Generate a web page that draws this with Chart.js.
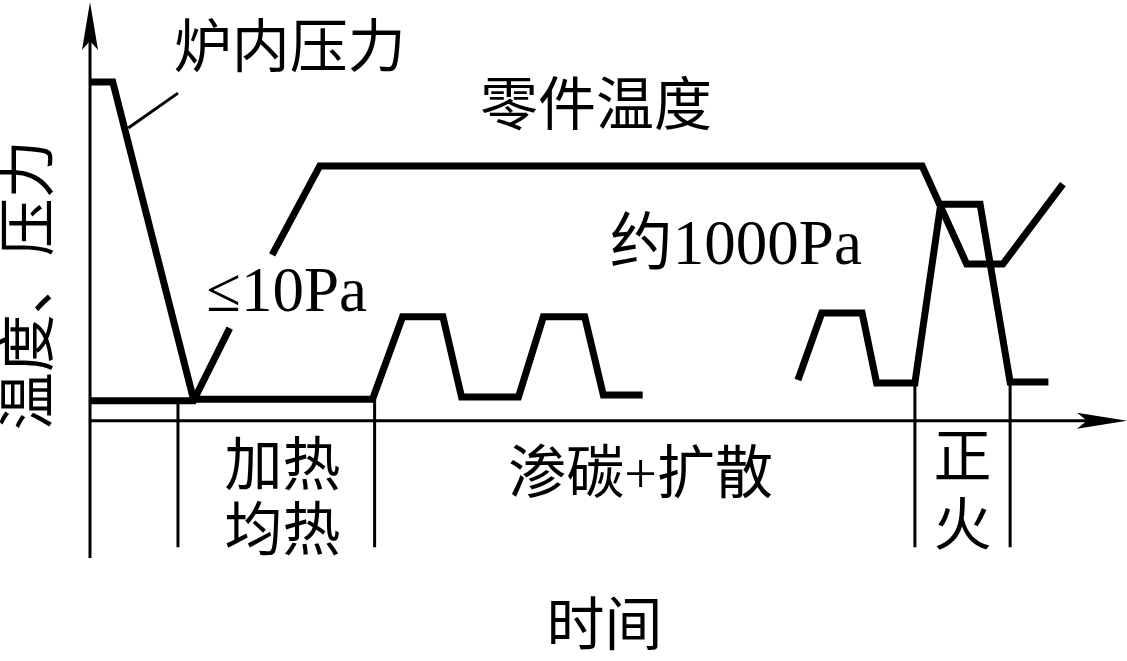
<!DOCTYPE html>
<html>
<head>
<meta charset="utf-8">
<script src="https://cdn.jsdelivr.net/npm/chart.js@4/dist/chart.umd.min.js"></script>
<style>
    html, body { margin: 0; padding: 0; background: #fff; }
    canvas { display: block; }
</style>
</head>
<body>
<canvas id="processChart" width="1127" height="661"></canvas>
<script>
// Схема процесса: давление в печи и температура детали во времени

// Давление в печи (ось времени условная, 0..100)
const pressureTime  = [0, 2.2, 10, 27.3, 30.2, 34.1, 35.9, 41.4, 43.8, 47.8, 49.6, 53.4, 60, 68.4, 70.7, 74.6, 76.0, 79.7, 82.2, 86.0, 88.9, 92.6];
const pressureValue = [81.5, 81.5, 5.2, 5.2, 25, 25, 5.7, 5.7, 25, 25, 6.2, 6.2, null, 9.8, 25.9, 25.9, 9.1, 9.1, 52.1, 52.1, 9.3, 9.3];

// Температура детали
const tempTime  = [0, 10, 13.5, 15.5, 17.6, 22.2, 80.4, 84.7, 88.2, 94.0];
const tempValue = [4.8, 4.8, 22.3, null, 39.9, 61.3, 61.3, 37.7, 37.7, 56.9];

// Границы этапов (время) и их верхние точки
const stageTime = [8.5, 27.5, 79.7, 88.9];
const stageTop  = [4.8, 5.2, 9.1, 9.3];
const stageBottom = -30.4;

// Выноска к подписи «炉内压力»
const leaderTime  = [3.7, 8.5];
const leaderValue = [70.4, 78.8];

// Подписи
const labels = [
    { text: '炉内压力', x: 19.3, y: 88.7 },
    { text: '零件温度', x: 48.9, y: 74.7 },
    { text: '约1000Pa', x: 62.4, y: 41.6, big: true },
    { text: '≤10Pa', x: 19.0, y: 30.3, big: true },
    { text: '加热', x: 18.6, y: -11.8 },
    { text: '均热', x: 18.6, y: -27.4 },
    { text: '渗碳+扩散', x: 53.2, y: -13.7 },
    { text: '正', x: 84.3, y: -9.9 },
    { text: '火', x: 84.3, y: -26.3 },
    { text: '时间', x: 49.7, y: -50.3 }
];
const yAxisTitle = '温度、压力';

const FONT = "58px 'Liberation Serif', 'Noto Sans CJK SC', sans-serif";
const FONT_BIG = "63px 'Liberation Serif', 'Noto Sans CJK SC', sans-serif";

function toPoints(xs, ys) {
    return xs.map((x, i) => ({ x: x, y: ys[i] }));
}

function lineSet(points, width) {
    return {
        data: points,
        borderColor: '#000',
        borderWidth: width,
        pointRadius: 0,
        tension: 0,
        fill: false,
        clip: false,
        spanGaps: false,
        borderJoinStyle: 'miter',
        borderCapStyle: 'butt'
    };
}

const datasets = [
    lineSet(toPoints(pressureTime, pressureValue), 7),
    lineSet(toPoints(tempTime, tempValue), 7),
    lineSet(toPoints(leaderTime, leaderValue), 3)
];
stageTime.forEach((t, i) => {
    datasets.push(lineSet([{ x: t, y: stageTop[i] }, { x: t, y: stageBottom }], 3));
});

// Оси со стрелками и подписи
const schemePlugin = {
    id: 'scheme',
    beforeDatasetsDraw(chart) {
        const ctx = chart.ctx;
        const xs = chart.scales.x;
        const ys = chart.scales.y;
        const x0 = xs.getPixelForValue(0);
        const y0 = ys.getPixelForValue(0);
        const xEnd = xs.getPixelForValue(100);
        const yTop = ys.getPixelForValue(100);
        const yBottom = ys.getPixelForValue(-33);

        ctx.save();
        ctx.strokeStyle = '#000';
        ctx.fillStyle = '#000';
        ctx.lineWidth = 3;
        ctx.beginPath();
        ctx.moveTo(x0, yBottom);
        ctx.lineTo(x0, yTop + 10);
        ctx.moveTo(x0, y0);
        ctx.lineTo(xEnd - 10, y0);
        ctx.stroke();

        // стрелка оси Y
        ctx.beginPath();
        ctx.moveTo(x0, yTop - 3);
        ctx.lineTo(x0 + 8, yTop + 45);
        ctx.lineTo(x0, yTop + 36);
        ctx.lineTo(x0 - 8, yTop + 45);
        ctx.closePath();
        ctx.fill();

        // стрелка оси X
        ctx.beginPath();
        ctx.moveTo(xEnd + 2, y0);
        ctx.lineTo(xEnd - 48, y0 - 8);
        ctx.lineTo(xEnd - 38, y0);
        ctx.lineTo(xEnd - 48, y0 + 8);
        ctx.closePath();
        ctx.fill();
        ctx.restore();
    },
    afterDatasetsDraw(chart) {
        const ctx = chart.ctx;
        const xs = chart.scales.x;
        const ys = chart.scales.y;
        ctx.save();
        ctx.fillStyle = '#000';
        ctx.textAlign = 'center';
        ctx.textBaseline = 'middle';
        labels.forEach(l => {
            ctx.font = l.big ? FONT_BIG : FONT;
            ctx.fillText(l.text, xs.getPixelForValue(l.x), ys.getPixelForValue(l.y));
        });
        ctx.font = FONT;
        ctx.translate(xs.getPixelForValue(-5.5), ys.getPixelForValue(32.6));
        ctx.rotate(-Math.PI / 2);
        ctx.fillText(yAxisTitle, 0, 0);
        ctx.restore();
    }
};

new Chart(document.getElementById('processChart'), {
    type: 'line',
    data: { datasets: datasets },
    options: {
        responsive: false,
        animation: false,
        layout: { padding: { left: 90, right: 2, top: 5, bottom: 103 } },
        scales: {
            x: { type: 'linear', min: 0, max: 100, display: false },
            y: { type: 'linear', min: -33, max: 100, display: false }
        },
        plugins: {
            legend: { display: false },
            tooltip: { enabled: false }
        }
    },
    plugins: [schemePlugin]
});
</script>
</body>
</html>
